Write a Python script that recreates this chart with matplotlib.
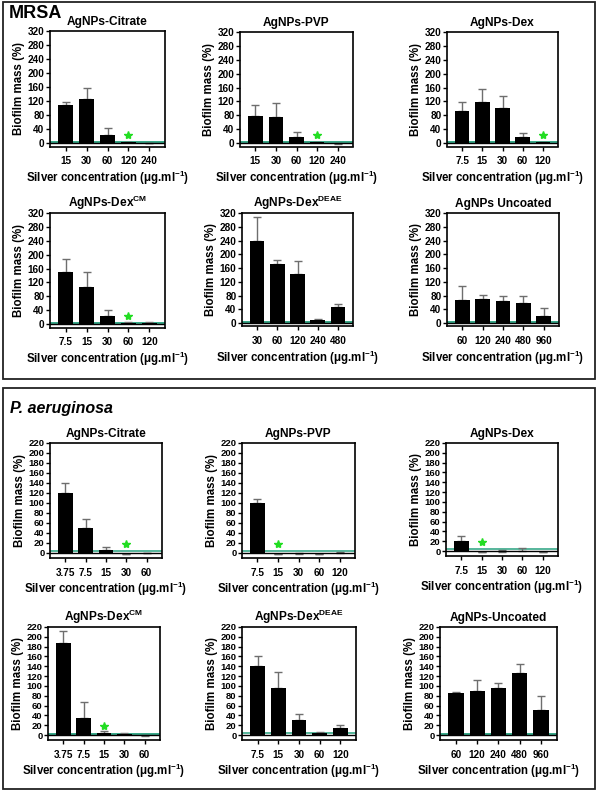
import matplotlib.pyplot as plt
from matplotlib.patches import Rectangle

plt.rcParams['font.family'] = ['Liberation Sans', 'DejaVu Sans']
plt.rcParams['font.weight'] = 'bold'
plt.rcParams['mathtext.fontset'] = 'custom'
plt.rcParams['mathtext.bf'] = 'Liberation Sans:bold'
plt.rcParams['mathtext.rm'] = 'Liberation Sans:bold'
plt.rcParams['mathtext.it'] = 'Liberation Sans:bold:italic'

# ---- data ----
mrsa_titles = ['AgNPs-Citrate', 'AgNPs-PVP', 'AgNPs-Dex',
               r'AgNPs-Dex$^{\mathbf{CM}}$', r'AgNPs-Dex$^{\mathbf{DEAE}}$', 'AgNPs Uncoated']
mrsa_conc = [['15', '30', '60', '120', '240'],
             ['15', '30', '60', '120', '240'],
             ['7.5', '15', '30', '60', '120'],
             ['7.5', '15', '30', '60', '120'],
             ['30', '60', '120', '240', '480'],
             ['60', '120', '240', '480', '960']]
mrsa_mean = [[110, 127, 23, 3, 1],
             [77, 76, 17, 2, -4],
             [91, 118, 101, 16, 2],
             [151, 106, 23, 3, 2],
             [240, 173, 143, 8, 47],
             [66, 69, 63, 59, 21]]
mrsa_err = [[6, 29, 21, 0, 0],
            [34, 39, 15, 0, 3],
            [27, 38, 35, 13, 0],
            [36, 43, 16, 4, 4],
            [68, 11, 37, 5, 9],
            [43, 13, 16, 21, 23]]
mrsa_star = [3, 3, 4, 3, None, None]

pa_titles = ['AgNPs-Citrate', 'AgNPs-PVP', 'AgNPs-Dex',
             r'AgNPs-Dex$^{\mathbf{CM}}$', r'AgNPs-Dex$^{\mathbf{DEAE}}$', 'AgNPs-Uncoated']
pa_conc = [['3.75', '7.5', '15', '30', '60'],
           ['7.5', '15', '30', '60', '120'],
           ['7.5', '15', '30', '60', '120'],
           ['3.75', '7.5', '15', '30', '60'],
           ['7.5', '15', '30', '60', '120'],
           ['60', '120', '240', '480', '960']]
pa_mean = [[120, 51, 6, -2, 0],
           [100, -1, -2, -1, 0],
           [20, -1, -1, 0, -1],
           [188, 34, 5, 2, -2],
           [140, 96, 30, 5, 15],
           [85, 89, 95, 127, 52]]
pa_err = [[20, 18, 6, 0, 0],
          [9, 0, 3, 0, 2],
          [11, 0, 3, 7, 0],
          [24, 34, 4, 3, 3],
          [20, 33, 13, 2, 5],
          [3, 23, 11, 18, 28]]
pa_star = [3, 1, 1, 2, None, None]

W, H = 599, 792
fig = plt.figure(figsize=(W / 100, H / 100), dpi=100)

# panel frames
for y0, y1 in [(2, 379), (388, 789)]:
    fig.add_artist(Rectangle((3 / W, 1 - y1 / H), 592 / W, (y1 - y0) / H,
                             transform=fig.transFigure, fill=False,
                             edgecolor='#222222', lw=1.3))
fig.text(9 / W, 1 - 14 / H, 'MRSA', fontsize=13, fontweight='bold', va='center')
fig.text(10 / W, 1 - 408 / H, 'P. aeruginosa', fontsize=11.5, fontweight='bold',
         style='italic', va='center')

GREEN = '#3aa98a'


def add_ax(l, r, t, b):
    return fig.add_axes([l / W, 1 - b / H, (r - l) / W, (b - t) / H])


def draw(ax, title, conc, mean, err, star, ymax, step, star_y, band):
    x = list(range(len(conc)))
    ax.axhspan(0, band, color=GREEN, lw=0, zorder=1)
    ax.bar(x, mean, width=0.72, color='black', zorder=3)
    ax.errorbar(x, mean, yerr=[[0] * len(err), err], fmt='none',
                ecolor='#6e6e6e', elinewidth=1, capsize=3, capthick=1, zorder=2)
    ax.axhline(0, color='black', lw=1, zorder=4)
    if star is not None:
        ax.plot(star, star_y, marker='*', color='#22dd22', ms=6, zorder=5)
    ax.set_xlim(-0.75, len(conc) - 0.25)
    ax.set_ylim(-10, ymax)
    ax.set_yticks(range(0, ymax + 1, step))
    ax.set_xticks(x)
    ax.set_xticklabels(conc)
    ax.tick_params(axis='both', direction='out', length=3, width=1, pad=1)
    ax.tick_params(axis='y', labelsize=7.2 if ymax > 300 else 6.8)
    ax.tick_params(axis='x', labelsize=7.2, pad=4)
    for s in ax.spines.values():
        s.set_linewidth(1.2)
    ax.set_title(title, fontsize=8.6, fontweight='bold', pad=4)
    ax.set_ylabel('Biofilm mass (%)', fontsize=8.3, fontweight='bold', labelpad=2)
    ax.set_xlabel(r'Silver concentration (μg.ml$^{\mathbf{-1}}$)', fontsize=8.3,
                  fontweight='bold', labelpad=1.5)


mrsa_rects = [(50, 165, 31, 146.5), (240, 353, 32, 146.5), (447, 558, 32, 146.5),
              (50, 165, 213, 327.5), (242, 353, 213, 326.5), (447, 559, 213, 326.5)]
pa_rects = [(50, 162, 443, 558), (242, 355, 443, 558), (446, 558, 443, 556),
            (48, 160, 627, 740), (242, 356, 627, 740), (440, 557, 627, 740)]
mrsa_band = [6, 6, 6, 6, 6, 6]
pa_band = [1.5, 1.5, 1.5, 5, 1.5, 5]

for i in range(6):
    ax = add_ax(*mrsa_rects[i])
    draw(ax, mrsa_titles[i], mrsa_conc[i], mrsa_mean[i], mrsa_err[i],
         mrsa_star[i], 320, 40, 22, mrsa_band[i])
for i in range(6):
    ax = add_ax(*pa_rects[i])
    if pa_band[i] < 2:
        ax.axhline(5, color=GREEN, lw=1.2, zorder=1)
    draw(ax, pa_titles[i], pa_conc[i], pa_mean[i], pa_err[i],
         pa_star[i], 220, 20, 18, 0 if pa_band[i] < 2 else pa_band[i])

fig.savefig('out.png', dpi=100)
